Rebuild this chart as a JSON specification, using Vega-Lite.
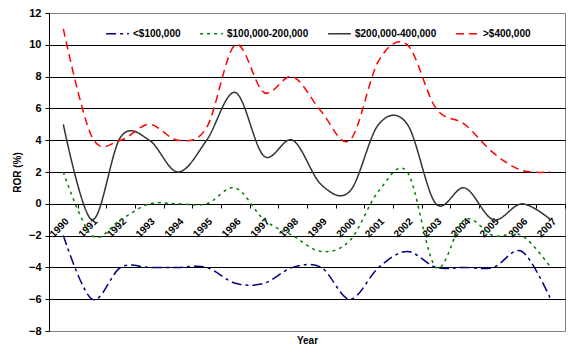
{
  "$schema": "https://vega.github.io/schema/vega-lite/v6.json",
  "width": 516,
  "height": 318,
  "autosize": "none",
  "padding": {"left": 49, "top": 13, "right": 11, "bottom": 23},
  "background": "white",
  "config": {
    "view": {"stroke": "#808080", "strokeWidth": 1},
    "font": "Liberation Sans"
  },
  "data": {
    "values": [
      {"Year": "1990", "Series": "<$100,000", "ROR": -2},
      {"Year": "1991", "Series": "<$100,000", "ROR": -6},
      {"Year": "1992", "Series": "<$100,000", "ROR": -4},
      {"Year": "1993", "Series": "<$100,000", "ROR": -4},
      {"Year": "1994", "Series": "<$100,000", "ROR": -4},
      {"Year": "1995", "Series": "<$100,000", "ROR": -4},
      {"Year": "1996", "Series": "<$100,000", "ROR": -5},
      {"Year": "1997", "Series": "<$100,000", "ROR": -5},
      {"Year": "1998", "Series": "<$100,000", "ROR": -4},
      {"Year": "1999", "Series": "<$100,000", "ROR": -4},
      {"Year": "2000", "Series": "<$100,000", "ROR": -6},
      {"Year": "2001", "Series": "<$100,000", "ROR": -4},
      {"Year": "2002", "Series": "<$100,000", "ROR": -3},
      {"Year": "2003", "Series": "<$100,000", "ROR": -4},
      {"Year": "2004", "Series": "<$100,000", "ROR": -4},
      {"Year": "2005", "Series": "<$100,000", "ROR": -4},
      {"Year": "2006", "Series": "<$100,000", "ROR": -3},
      {"Year": "2007", "Series": "<$100,000", "ROR": -6},
      {"Year": "1990", "Series": "$100,000-200,000", "ROR": 2},
      {"Year": "1991", "Series": "$100,000-200,000", "ROR": -2},
      {"Year": "1992", "Series": "$100,000-200,000", "ROR": -1},
      {"Year": "1993", "Series": "$100,000-200,000", "ROR": 0},
      {"Year": "1994", "Series": "$100,000-200,000", "ROR": 0},
      {"Year": "1995", "Series": "$100,000-200,000", "ROR": 0},
      {"Year": "1996", "Series": "$100,000-200,000", "ROR": 1},
      {"Year": "1997", "Series": "$100,000-200,000", "ROR": -1},
      {"Year": "1998", "Series": "$100,000-200,000", "ROR": -2},
      {"Year": "1999", "Series": "$100,000-200,000", "ROR": -3},
      {"Year": "2000", "Series": "$100,000-200,000", "ROR": -2.3},
      {"Year": "2001", "Series": "$100,000-200,000", "ROR": 0.8},
      {"Year": "2002", "Series": "$100,000-200,000", "ROR": 2},
      {"Year": "2003", "Series": "$100,000-200,000", "ROR": -4},
      {"Year": "2004", "Series": "$100,000-200,000", "ROR": -1},
      {"Year": "2005", "Series": "$100,000-200,000", "ROR": -2},
      {"Year": "2006", "Series": "$100,000-200,000", "ROR": -2},
      {"Year": "2007", "Series": "$100,000-200,000", "ROR": -4},
      {"Year": "1990", "Series": "$200,000-400,000", "ROR": 5},
      {"Year": "1991", "Series": "$200,000-400,000", "ROR": -1},
      {"Year": "1992", "Series": "$200,000-400,000", "ROR": 4.2},
      {"Year": "1993", "Series": "$200,000-400,000", "ROR": 4},
      {"Year": "1994", "Series": "$200,000-400,000", "ROR": 2},
      {"Year": "1995", "Series": "$200,000-400,000", "ROR": 4},
      {"Year": "1996", "Series": "$200,000-400,000", "ROR": 7},
      {"Year": "1997", "Series": "$200,000-400,000", "ROR": 3},
      {"Year": "1998", "Series": "$200,000-400,000", "ROR": 4},
      {"Year": "1999", "Series": "$200,000-400,000", "ROR": 1.2},
      {"Year": "2000", "Series": "$200,000-400,000", "ROR": 0.8},
      {"Year": "2001", "Series": "$200,000-400,000", "ROR": 5},
      {"Year": "2002", "Series": "$200,000-400,000", "ROR": 5},
      {"Year": "2003", "Series": "$200,000-400,000", "ROR": 0},
      {"Year": "2004", "Series": "$200,000-400,000", "ROR": 1},
      {"Year": "2005", "Series": "$200,000-400,000", "ROR": -1},
      {"Year": "2006", "Series": "$200,000-400,000", "ROR": 0},
      {"Year": "2007", "Series": "$200,000-400,000", "ROR": -1},
      {"Year": "1990", "Series": ">$400,000", "ROR": 11},
      {"Year": "1991", "Series": ">$400,000", "ROR": 4.2},
      {"Year": "1992", "Series": ">$400,000", "ROR": 4},
      {"Year": "1993", "Series": ">$400,000", "ROR": 5},
      {"Year": "1994", "Series": ">$400,000", "ROR": 4},
      {"Year": "1995", "Series": ">$400,000", "ROR": 4.8},
      {"Year": "1996", "Series": ">$400,000", "ROR": 10},
      {"Year": "1997", "Series": ">$400,000", "ROR": 7},
      {"Year": "1998", "Series": ">$400,000", "ROR": 8},
      {"Year": "1999", "Series": ">$400,000", "ROR": 5.8},
      {"Year": "2000", "Series": ">$400,000", "ROR": 4},
      {"Year": "2001", "Series": ">$400,000", "ROR": 9},
      {"Year": "2002", "Series": ">$400,000", "ROR": 10},
      {"Year": "2003", "Series": ">$400,000", "ROR": 6},
      {"Year": "2004", "Series": ">$400,000", "ROR": 5},
      {"Year": "2005", "Series": ">$400,000", "ROR": 3.2},
      {"Year": "2006", "Series": ">$400,000", "ROR": 2.1},
      {"Year": "2007", "Series": ">$400,000", "ROR": 2}
    ]
  },
  "mark": {"type": "line", "interpolate": "cardinal", "tension": 0, "strokeWidth": 1.5},
  "encoding": {
    "x": {
      "field": "Year",
      "type": "ordinal",
      "scale": {"type": "band", "paddingInner": 0, "paddingOuter": 0},
      "axis": {
        "offset": -127,
        "tickBand": "extent",
        "labelAngle": -45,
        "labelAlign": "right",
        "labelBaseline": "top",
        "labelDx": -3,
        "labelFontSize": 10,
        "labelFontWeight": "bold",
        "labelColor": "black",
        "labelPadding": 8,
        "domainColor": "black",
        "tickColor": "black",
        "tickSize": 4,
        "grid": false,
        "title": "Year",
        "titleFontSize": 10,
        "titleFontWeight": "bold",
        "titleColor": "black",
        "titleY": 131,
        "titleBaseline": "top"
      }
    },
    "y": {
      "field": "ROR",
      "type": "quantitative",
      "scale": {"domain": [-8, 12], "nice": false, "zero": false},
      "axis": {
        "values": [-8, -6, -4, -2, 0, 2, 4, 6, 8, 10, 12],
        "title": "ROR (%)",
        "titleFontSize": 10,
        "titleFontWeight": "bold",
        "titleColor": "black",
        "titlePadding": 6,
        "labelFontSize": 11,
        "labelFontWeight": "bold",
        "labelColor": "black",
        "labelPadding": 4,
        "domainColor": "black",
        "tickColor": "black",
        "tickSize": 4,
        "grid": true,
        "gridColor": {"condition": {"test": "datum.value === 12 || datum.value === -8", "value": "#808080"}, "value": "black"},
        "gridOpacity": 1,
        "gridWidth": 1
      }
    },
    "color": {
      "field": "Series",
      "type": "nominal",
      "scale": {
        "domain": ["<$100,000", "$100,000-200,000", "$200,000-400,000", ">$400,000"],
        "range": ["#000080", "#008000", "#333333", "#FF0000"]
      },
      "legend": {
        "title": null,
        "orient": "none",
        "direction": "horizontal",
        "legendX": 56,
        "legendY": 8,
        "symbolType": "stroke",
        "symbolSize": 520,
        "symbolStrokeWidth": 1.5,
        "labelFontSize": 10,
        "labelFontWeight": "bold",
        "labelColor": "black",
        "labelOffset": 3,
        "columnPadding": 16
      }
    },
    "strokeDash": {
      "field": "Series",
      "type": "nominal",
      "scale": {
        "domain": ["<$100,000", "$100,000-200,000", "$200,000-400,000", ">$400,000"],
        "range": [[10, 4, 3, 4], [3, 4], [1, 0], [8, 5]]
      },
      "legend": null
    },
    "strokeWidth": {
      "field": "Series",
      "type": "nominal",
      "scale": {
        "domain": ["<$100,000", "$100,000-200,000", "$200,000-400,000", ">$400,000"],
        "range": [1.5, 1.5, 2, 1.5]
      },
      "legend": null
    }
  }
}
